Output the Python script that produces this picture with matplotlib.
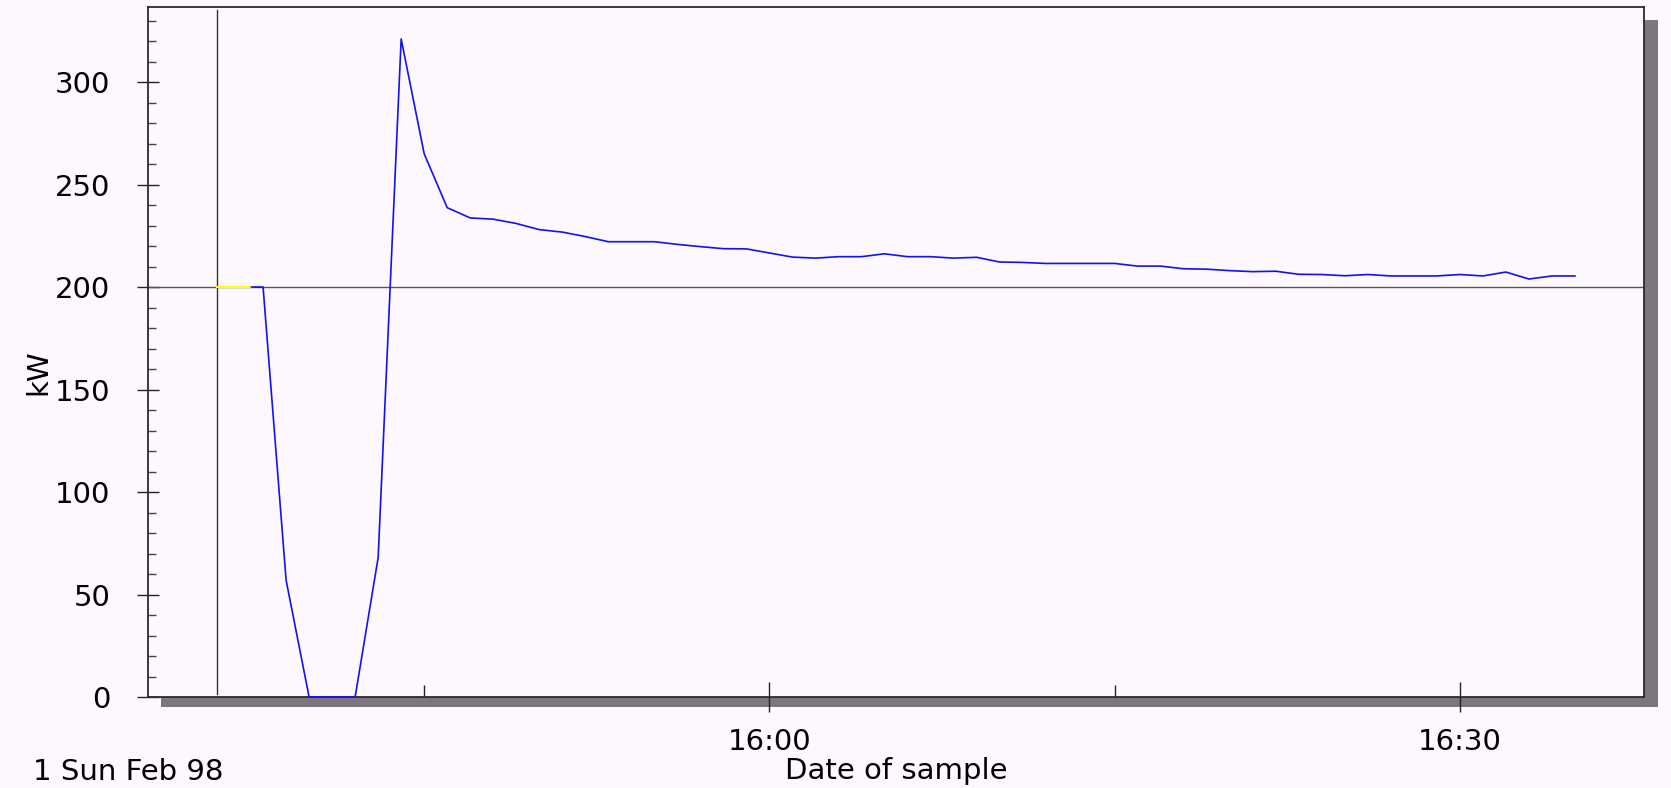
import matplotlib
matplotlib.use('Agg')
import matplotlib.pyplot as plt
import matplotlib.dates as mdates
from matplotlib.patches import Rectangle
import pandas as pd

plt.rcParams['font.family'] = ['DejaVu Sans']

# ── data: kW sampled once a minute, 1 Feb 1998 ──
start = '1998-02-01 15:38:00'
kw = [200, 57, 0, 0, 0, 68, 321, 265, 238.7, 233.7, 233.1, 231, 228, 226.8,
      224.6, 222.1, 222.1, 222.1, 220.8, 219.7, 218.7, 218.6, 216.6, 214.6,
      214.1, 214.8, 214.8, 216.2, 214.8, 214.8, 214.1, 214.5, 212.2, 212,
      211.5, 211.5, 211.5, 211.5, 210.2, 210.2, 208.9, 208.7, 208, 207.5,
      207.7, 206.2, 206.1, 205.5, 206.1, 205.4, 205.4, 205.4, 206.1, 205.4,
      207.3, 203.9, 205.4, 205.4]
lead_t = ['1998-02-01 15:37:30']          # blue trace starts here at the setpoint
lead_kw = [200]
yellow_t = ['1998-02-01 15:36:00', '1998-02-01 15:37:30']
yellow_kw = [200, 200]
setpoint = 200
marker_t = '1998-02-01 15:36:00'
x_range = ['1998-02-01 15:33:00', '1998-02-01 16:38:00']

times = pd.date_range(start, periods=len(kw), freq='min')
blue_t = list(pd.to_datetime(lead_t)) + list(times)
blue_kw = lead_kw + kw

BG = '#FDF8FD'
FS = 21

W, H = 1671, 788
fig = plt.figure(figsize=(W / 100, H / 100), dpi=100, facecolor=BG)
ax = fig.add_axes([148 / W, 1 - 697 / H, (1644 - 148) / W, (697 - 7) / H],
                  facecolor=BG)

# drop shadow behind the plot box
fig.patches.append(Rectangle((161 / W, 1 - 707 / H), (1658 - 161) / W, (707 - 20) / H,
                             transform=fig.transFigure, facecolor='#7D767D',
                             edgecolor='none', zorder=-1))

ax.axhline(setpoint, color='#555555', lw=1.0, zorder=2)
ax.axvline(pd.Timestamp(marker_t), ymax=0.995, ymin=0.005, color='#333333',
           lw=1.0, zorder=2)
ax.plot(pd.to_datetime(yellow_t), yellow_kw, color='#FFFF00', lw=1.5, zorder=3)
ax.plot(blue_t, blue_kw, color='#1010FF', lw=1.2, zorder=4)

ax.set_xlim(pd.Timestamp(x_range[0]), pd.Timestamp(x_range[1]))
ax.set_ylim(0, 336.6)

ax.yaxis.set_major_locator(plt.MultipleLocator(50))
ax.yaxis.set_minor_locator(plt.MultipleLocator(10))
ax.xaxis.set_major_locator(mdates.MinuteLocator(byminute=[0, 30]))
ax.xaxis.set_minor_locator(mdates.MinuteLocator(byminute=[15, 45]))
ax.xaxis.set_major_formatter(mdates.DateFormatter('%H:%M'))

ax.tick_params(axis='y', which='major', direction='inout', length=16, width=1,
               color='#222222', labelsize=FS, pad=19)
ax.tick_params(axis='y', which='minor', direction='in', length=6, width=1,
               color='#444444')
ax.tick_params(axis='x', which='major', direction='inout', length=22, width=1,
               color='#222222', labelsize=FS, pad=11)
ax.tick_params(axis='x', which='minor', direction='in', length=9, width=1,
               color='#222222')

for s in ax.spines.values():
    s.set_color('#2A2A2A')
    s.set_linewidth(1.3)

fig.text(38 / W, 1 - 372 / H, 'kW', rotation=90, ha='center', va='center',
         fontsize=FS)
fig.text(896 / W, 1 - 779 / H, 'Date of sample', ha='center', va='baseline',
         fontsize=FS)
fig.text(33 / W, 1 - 780 / H, '1 Sun Feb 98', ha='left', va='baseline',
         fontsize=FS)

fig.savefig('out.png', dpi=100, facecolor=BG)
